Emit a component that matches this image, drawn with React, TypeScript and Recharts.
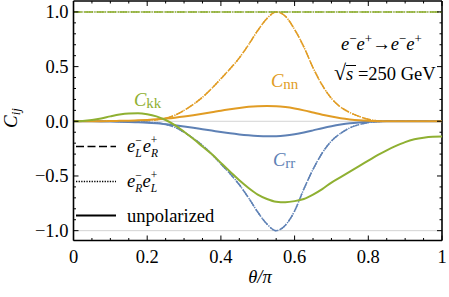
import { LineChart, Line, XAxis, YAxis, ReferenceLine } from "recharts";

// theta / pi sample points
const theta = [
  0, 0.025, 0.05, 0.075, 0.1, 0.125, 0.15, 0.175, 0.2, 0.225, 0.25, 0.275, 0.3, 0.325, 0.35, 0.375, 0.4,
  0.425, 0.45, 0.475, 0.5, 0.525, 0.55, 0.575, 0.6, 0.625, 0.65, 0.675, 0.7, 0.725, 0.75, 0.775, 0.8,
  0.825, 0.85, 0.875, 0.9, 0.925, 0.95, 0.975, 1,
];

// e_L^- e_R^+ (dashed) and e_R^- e_L^+ (dotted) coincide
const ckkPol = [
  1, 1, 1, 1, 1, 1, 1, 1, 1, 1, 1, 1, 1, 1, 1, 1, 1, 1, 1, 1, 1,
  1, 1, 1, 1, 1, 1, 1, 1, 1, 1, 1, 1, 1, 1, 1, 1, 1, 1, 1, 1,
];
const cnnPol = [
  0, 0, 0, 0, 0, 0.001, 0.002, 0.004, 0.008, 0.015, 0.027, 0.055, 0.1, 0.155, 0.22, 0.3, 0.39, 0.48,
  0.58, 0.7, 0.83, 0.94, 1, 0.96, 0.84, 0.68, 0.49, 0.33, 0.21, 0.13, 0.08, 0.045, 0.018, 0.005, 0.001,
  0, 0, 0, 0, 0, 0,
];
const crrPol = [
  0, 0, 0, 0, 0, -0.001, -0.002, -0.004, -0.008, -0.015, -0.027, -0.055, -0.1, -0.155, -0.22, -0.3, -0.39,
  -0.48, -0.58, -0.7, -0.83, -0.94, -1, -0.95, -0.82, -0.62, -0.44, -0.29, -0.18, -0.11, -0.06, -0.03,
  -0.01, -0.002, 0, 0, 0, 0, 0, 0, 0,
];

// unpolarized (solid)
const ckkUnpol = [
  0, 0.003, 0.012, 0.026, 0.045, 0.062, 0.072, 0.074, 0.065, 0.045, 0.012, -0.035, -0.095, -0.16, -0.23,
  -0.3, -0.38, -0.46, -0.54, -0.61, -0.67, -0.71, -0.735, -0.74, -0.73, -0.71, -0.67, -0.62, -0.56, -0.51,
  -0.46, -0.41, -0.36, -0.31, -0.265, -0.225, -0.19, -0.165, -0.15, -0.142, -0.14,
];
const cnnUnpol = [
  0, 0, 0.0005, 0.001, 0.002, 0.004, 0.006, 0.009, 0.013, 0.018, 0.025, 0.033, 0.043, 0.055, 0.068, 0.082,
  0.097, 0.11, 0.122, 0.132, 0.138, 0.14, 0.138, 0.13, 0.117, 0.1, 0.08, 0.06, 0.043, 0.028, 0.017, 0.009,
  0.004, 0.001, 0, 0, 0, 0, 0, 0, 0,
];
const crrUnpol = [
  0, 0, -0.0005, -0.001, -0.002, -0.004, -0.006, -0.009, -0.013, -0.019, -0.027, -0.036, -0.047, -0.059,
  -0.072, -0.085, -0.098, -0.11, -0.12, -0.128, -0.134, -0.137, -0.136, -0.13, -0.118, -0.102, -0.083,
  -0.063, -0.045, -0.03, -0.018, -0.01, -0.004, -0.001, 0, 0, 0, 0, 0, 0, 0,
];

const xTicks = [
  0, 0.05, 0.1, 0.15, 0.2, 0.25, 0.3, 0.35, 0.4, 0.45, 0.5, 0.55, 0.6, 0.65, 0.7, 0.75, 0.8, 0.85, 0.9, 0.95, 1,
];
const xMajorLabels: Record<string, string> = { "0": "0", "0.2": "0.2", "0.4": "0.4", "0.6": "0.6", "0.8": "0.8", "1": "1" };
const yTicks = [
  -1, -0.9, -0.8, -0.7, -0.6, -0.5, -0.4, -0.3, -0.2, -0.1, 0, 0.1, 0.2, 0.3, 0.4, 0.5, 0.6, 0.7, 0.8, 0.9, 1,
];
const yMajorLabels: Record<string, string> = { "-1": "\u22121.0", "-0.5": "\u22120.5", "0": "0.0", "0.5": "0.5", "1": "1.0" };
const gridLevels = [-1, 0, 1];

const BLUE = "#5E81B5";
const ORANGE = "#E19C24";
const GREEN = "#8FB032";
const FONT = "'Liberation Serif', 'Times New Roman', serif";

const W = 449;
const H = 297;
const M = { top: 1, right: 7, bottom: 0, left: 0 };
const Y_AXIS_W = 73.5;
const X_AXIS_H = 56.5;
const PLOT_TOP = M.top;
const PLOT_RIGHT = W - M.right;
const Y_DOMAIN: [number, number] = [-1.09, 1.1];

const data = theta.map((t, i) => ({
  t,
  kkPol: ckkPol[i],
  nnPol: cnnPol[i],
  rrPol: crrPol[i],
  kkUn: ckkUnpol[i],
  nnUn: cnnUnpol[i],
  rrUn: crrUnpol[i],
}));

const XTick = (props: any) => {
  const { x, y, payload } = props;
  const label = xMajorLabels[String(payload.value)];
  const len = label ? 5 : 2.5;
  return (
    <g>
      <line x1={x} x2={x} y1={y} y2={y - len} stroke="#000" strokeWidth={1} />
      <line x1={x} x2={x} y1={PLOT_TOP} y2={PLOT_TOP + len} stroke="#000" strokeWidth={1} />
      {label && (
        <text x={x} y={y + 22} textAnchor="middle" fontFamily={FONT} fontSize={18.5} fill="#000">
          {label}
        </text>
      )}
    </g>
  );
};

const YTick = (props: any) => {
  const { x, y, payload } = props;
  const label = yMajorLabels[String(payload.value)];
  const len = label ? 5 : 2.5;
  return (
    <g>
      <line x1={x} x2={x + len} y1={y} y2={y} stroke="#000" strokeWidth={1} />
      <line x1={PLOT_RIGHT} x2={PLOT_RIGHT - len} y1={y} y2={y} stroke="#000" strokeWidth={1} />
      {label && (
        <text x={x - 5} y={y + 6.3} textAnchor="end" fontFamily={FONT} fontSize={18.5} fill="#000">
          {label}
        </text>
      )}
    </g>
  );
};

const DASH = "8 3.5";
const DOT = "1.3 1.3";

// e with stacked sub/superscript, e.g. e_L^-
const ESubSup = ({ sub, sup, subW }: { sub: string; sup: string; subW: number }) => (
  <>
    <tspan fontStyle="italic" dy={0}>e</tspan>
    <tspan fontStyle="italic" fontSize={11.5} dy={5}>{sub}</tspan>
    <tspan fontSize={11.5} dx={-subW} dy={-13}>{sup}</tspan>
    <tspan fontSize={11.5} dy={8}>{"\u200a"}</tspan>
  </>
);

export default function App() {
  return (
    <div style={{ position: "absolute", left: 0, top: 0, width: W, height: H, background: "#fff" }}>
      <LineChart width={W} height={H} data={data} margin={M}>
        <XAxis
          dataKey="t"
          type="number"
          domain={[0, 1]}
          ticks={xTicks}
          interval={0}
          height={X_AXIS_H}
          tickSize={0}
          tickMargin={0}
          tickLine={false}
          tick={<XTick />}
          axisLine={{ stroke: "#000", strokeWidth: 1.6 }}
        />
        <YAxis
          type="number"
          domain={Y_DOMAIN}
          allowDataOverflow
          ticks={yTicks}
          interval={0}
          width={Y_AXIS_W}
          tickSize={0}
          tickMargin={0}
          tickLine={false}
          tick={<YTick />}
          axisLine={{ stroke: "#000", strokeWidth: 1.6 }}
        />
        {gridLevels.map((g) => (
          <ReferenceLine key={g} y={g} stroke="#d4d4d4" strokeWidth={1} />
        ))}
        <ReferenceLine y={Y_DOMAIN[1]} stroke="#000" strokeWidth={1.6} />
        <ReferenceLine x={1} stroke="#000" strokeWidth={1.6} />

        <Line dataKey="rrPol" type="monotone" stroke={BLUE} strokeWidth={1.5} strokeDasharray={DASH} dot={false} isAnimationActive={false} />
        <Line dataKey="nnPol" type="monotone" stroke={ORANGE} strokeWidth={1.5} strokeDasharray={DASH} dot={false} isAnimationActive={false} />
        <Line dataKey="kkPol" type="monotone" stroke={GREEN} strokeWidth={1.5} strokeDasharray={DASH} dot={false} isAnimationActive={false} />
        <Line dataKey="rrPol" type="monotone" stroke={BLUE} strokeWidth={1.5} strokeDasharray={DOT} dot={false} isAnimationActive={false} />
        <Line dataKey="nnPol" type="monotone" stroke={ORANGE} strokeWidth={1.5} strokeDasharray={DOT} dot={false} isAnimationActive={false} />
        <Line dataKey="kkPol" type="monotone" stroke={GREEN} strokeWidth={1.5} strokeDasharray={DOT} dot={false} isAnimationActive={false} />
        <Line dataKey="rrUn" type="monotone" stroke={BLUE} strokeWidth={2} dot={false} isAnimationActive={false} />
        <Line dataKey="nnUn" type="monotone" stroke={ORANGE} strokeWidth={2} dot={false} isAnimationActive={false} />
        <Line dataKey="kkUn" type="monotone" stroke={GREEN} strokeWidth={2} dot={false} isAnimationActive={false} />
      </LineChart>

      <svg width={W} height={H} style={{ position: "absolute", left: 0, top: 0, pointerEvents: "none" }}>
        <g fontFamily={FONT} fontSize={18.5} fill="#000">
          {/* axis titles */}
          <text transform="translate(17,128) rotate(-90)">
            <tspan fontStyle="italic" fontSize={19}>C</tspan>
            <tspan fontStyle="italic" fontSize={13} dy={3}>ij</tspan>
          </text>
          <text x={260} y={283} textAnchor="middle" fontStyle="italic">θ/π</text>

          {/* legend */}
          <line x1={76} x2={116} y1={146.5} y2={146.5} stroke="#000" strokeWidth={1.6} strokeDasharray={DASH} />
          <text x={127} y={152}>
            <ESubSup sub="L" sup="−" subW={6.4} />
            <ESubSup sub="R" sup="+" subW={7.1} />
          </text>
          <line x1={76} x2={116} y1={181.5} y2={181.5} stroke="#000" strokeWidth={1.6} strokeDasharray={DOT} />
          <text x={127} y={187}>
            <ESubSup sub="R" sup="−" subW={7.1} />
            <ESubSup sub="L" sup="+" subW={6.4} />
          </text>
          <line x1={76} x2={116} y1={215.5} y2={215.5} stroke="#000" strokeWidth={2} />
          <text x={127} y={221.5}>unpolarized</text>

          {/* curve labels */}
          <text x={134} y={106} fill={GREEN}>
            <tspan fontStyle="italic">C</tspan>
            <tspan fontSize={15} dy={2}>kk</tspan>
          </text>
          <text x={271} y={86.5} fill={ORANGE}>
            <tspan fontStyle="italic">C</tspan>
            <tspan fontSize={15} dy={2}>nn</tspan>
          </text>
          <text x={273} y={166} fill={BLUE}>
            <tspan fontStyle="italic">C</tspan>
            <tspan fontSize={15} dy={2}>rr</tspan>
          </text>

          {/* process annotation */}
          <text x={341} y={50}>
            <tspan fontStyle="italic">e</tspan>
            <tspan fontSize={13} dy={-7}>−</tspan>
            <tspan fontStyle="italic" dy={7}>e</tspan>
            <tspan fontSize={13} dy={-7}>+</tspan>
            <tspan dy={7}>→</tspan>
            <tspan fontStyle="italic">e</tspan>
            <tspan fontSize={13} dy={-7}>−</tspan>
            <tspan fontStyle="italic" dy={7}>e</tspan>
            <tspan fontSize={13} dy={-7}>+</tspan>
          </text>
          <text x={334} y={80}>
            <tspan fontSize={22}>√</tspan>
            <tspan fontStyle="italic">s</tspan>
            <tspan> =250 GeV</tspan>
          </text>
          <line x1={346} x2={356} y1={65.5} y2={65.5} stroke="#000" strokeWidth={1} />
        </g>
      </svg>
    </div>
  );
}
